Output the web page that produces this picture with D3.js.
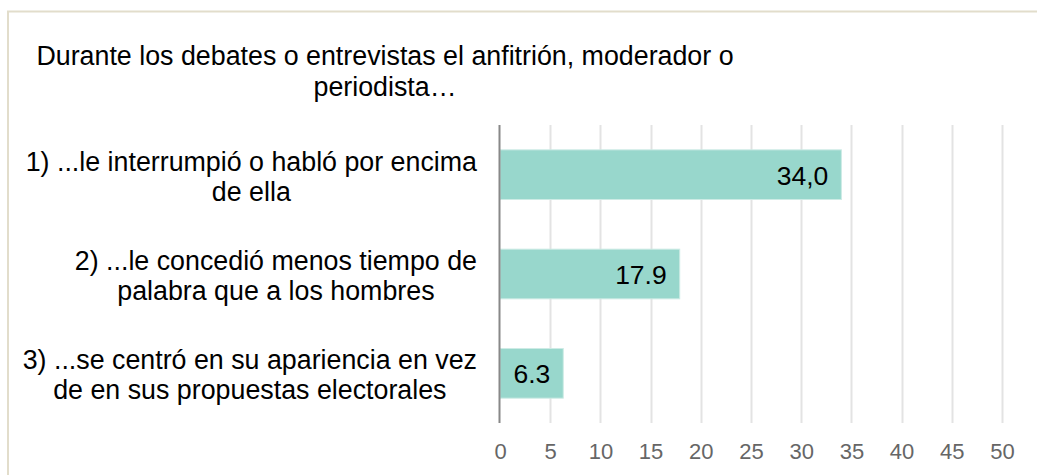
<!DOCTYPE html>
<html><head><meta charset="utf-8">
<script src="https://cdn.jsdelivr.net/npm/d3@7"></script>
<style>html,body{margin:0;padding:0;background:#fff;}svg{display:block;font-family:"Liberation Sans",Arial,sans-serif;}</style>
</head><body><svg id="c" width="1037" height="475"></svg>
<script>
const titleLines = ["Durante los debates o entrevistas el anfitrión, moderador o", "periodista…"];
const categories = [
  ["1) ...le interrumpió o habló por encima", "de ella"],
  ["2) ...le concedió menos tiempo de", "palabra que a los hombres"],
  ["3) ...se centró en su apariencia en vez", "de en sus propuestas electorales"]
];
const values = [34.0, 17.9, 6.3];
const valueLabels = ["34,0", "17.9", "6.3"];
const ticks = [0, 5, 10, 15, 20, 25, 30, 35, 40, 45, 50];

const FS = 26.8;
const svg = d3.select("#c");
// frame
svg.append("rect").attr("x", 8).attr("y", 11.5).attr("width", 1100).attr("height", 600)
  .attr("fill", "none").attr("stroke", "#e2ddcb").attr("stroke-width", 2);

// title
svg.append("text").attr("text-anchor", "middle")
  .attr("font-size", FS).attr("fill", "#000")
  .selectAll("tspan").data(titleLines).join("tspan")
  .attr("x", 385).attr("y", (d, i) => 65 + i * 31).text(d => d);

const x = d3.scaleLinear().domain([0, 50]).range([500, 1002]);
const y = d3.scaleBand().domain(d3.range(categories.length)).range([125, 423]).paddingInner(0.5).paddingOuter(0.25);

// gridlines
svg.append("g").selectAll("line").data(ticks.slice(1)).join("line")
  .attr("x1", d => Math.round(x(d)) + 0.5).attr("x2", d => Math.round(x(d)) + 0.5)
  .attr("y1", 125).attr("y2", 423).attr("stroke", "#e3e3e3").attr("stroke-width", 2);

// tick labels via axis
const ax = svg.append("g").attr("transform", "translate(0,423)")
  .call(d3.axisBottom(x).tickValues(ticks).tickSize(0).tickPadding(20).tickFormat(d3.format("d")));
ax.select(".domain").remove();
ax.selectAll("text").attr("font-size", 22).attr("fill", "#666").attr("font-family", "Liberation Sans, Arial, sans-serif");

// bars
svg.append("g").selectAll("rect").data(values).join("rect")
  .attr("x", x(0)).attr("y", (d, i) => y(i)).attr("width", d => x(d) - x(0)).attr("height", y.bandwidth())
  .attr("fill", "#98d7cc").attr("stroke", "#cdebe5").attr("stroke-width", 1);

// value labels
svg.append("g").selectAll("text").data(values).join("text")
  .attr("x", d => x(d) - 13).attr("y", (d, i) => y(i) + y.bandwidth() / 2 + 10)
  .attr("text-anchor", "end").attr("font-size", 26.5).attr("fill", "#000")
  .text((d, i) => valueLabels[i]);

// zero axis line
svg.append("line").attr("x1", 499.5).attr("x2", 499.5).attr("y1", 125).attr("y2", 423)
  .attr("stroke", "#888").attr("stroke-width", 2);

// category labels: centered lines, block right-aligned at 477
categories.forEach((lines, i) => {
  const t = svg.append("text").attr("font-size", FS).attr("fill", "#000").attr("text-anchor", "middle");
  const sp = t.selectAll("tspan").data(lines).join("tspan").text(d => d);
  let maxW = 0;
  sp.each(function () { maxW = Math.max(maxW, this.getComputedTextLength()); });
  const cx = 477 - maxW / 2;
  const cy = y(i) + y.bandwidth() / 2;
  sp.attr("x", cx).attr("y", (d, j) => cy - 4 + j * 30);
});
</script></body></html>
